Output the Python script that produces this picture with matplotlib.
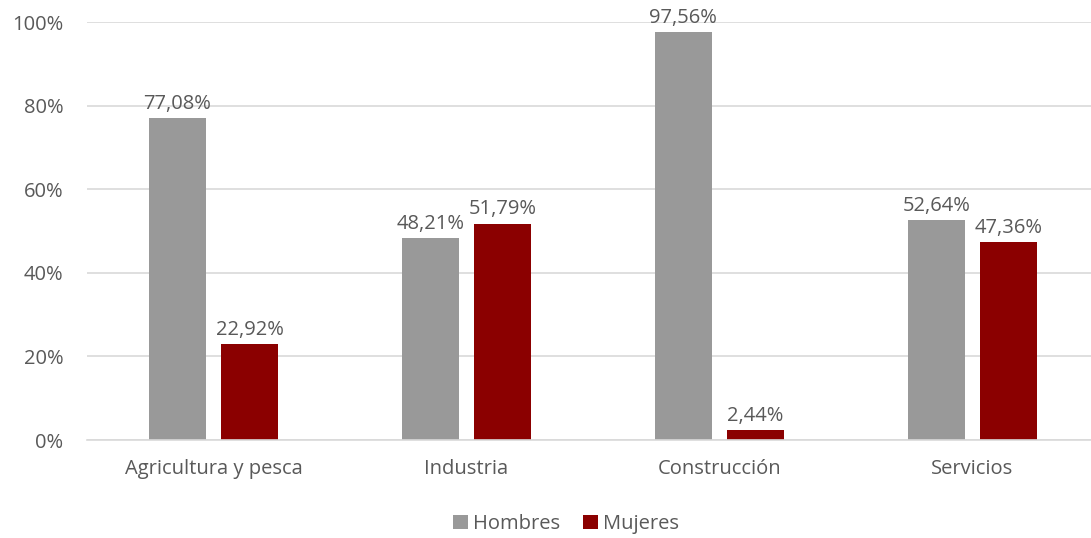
import matplotlib.pyplot as plt
import numpy as np

categories = ["Agricultura y pesca", "Industria", "Construcción", "Servicios"]
hombres = [77.08, 48.21, 97.56, 52.64]
mujeres = [22.92, 51.79, 2.44, 47.36]
yticks = [0, 20, 40, 60, 80, 100]

plt.rcParams['font.family'] = ['Open Sans', 'DejaVu Sans']
txt = '#595959'
fs = 14.5

fig = plt.figure(figsize=(10.91, 5.38), dpi=100)
ax = fig.add_axes([87 / 1091, (538 - 440) / 538, 1012 / 1091, (440 - 22) / 538])

x = np.arange(len(categories))
w = 0.225
off = 0.143
b1 = ax.bar(x - off, hombres, w, color='#999999', label='Hombres', zorder=2)
b2 = ax.bar(x + off, mujeres, w, color='#8b0000', label='Mujeres', zorder=2)

for bars, vals in ((b1, hombres), (b2, mujeres)):
    for b, v in zip(bars, vals):
        ax.annotate(f"{v:.2f}%".replace('.', ','), (b.get_x() + b.get_width() / 2, v),
                    xytext=(0, 3), textcoords='offset points', ha='center', va='bottom',
                    fontsize=fs, color=txt)

ax.set_xlim(-0.5, len(categories) - 0.5)
ax.set_ylim(0, 100)
ax.set_yticks(yticks)
ax.set_yticklabels([f"{t}%" for t in yticks])
ax.set_xticks(x)
ax.set_xticklabels(categories)
ax.tick_params(axis='both', length=0, labelsize=fs, labelcolor=txt)
ax.tick_params(axis='y', pad=17)
ax.tick_params(axis='x', pad=14)
ax.yaxis.grid(True, color='#d9d9d9', linewidth=1.2, zorder=0)
for s in ['top', 'right', 'left']:
    ax.spines[s].set_visible(False)
ax.spines['bottom'].set_color('#d9d9d9')
ax.spines['bottom'].set_linewidth(1.2)

fig.legend(loc='center', bbox_to_anchor=(566 / 1091, 1 - 524 / 538), ncol=2, frameon=False,
           fontsize=fs, labelcolor=txt, handlelength=0.75, handleheight=0.75,
           handletextpad=0.25, columnspacing=1.1)

fig.savefig('out.png', dpi=100)
